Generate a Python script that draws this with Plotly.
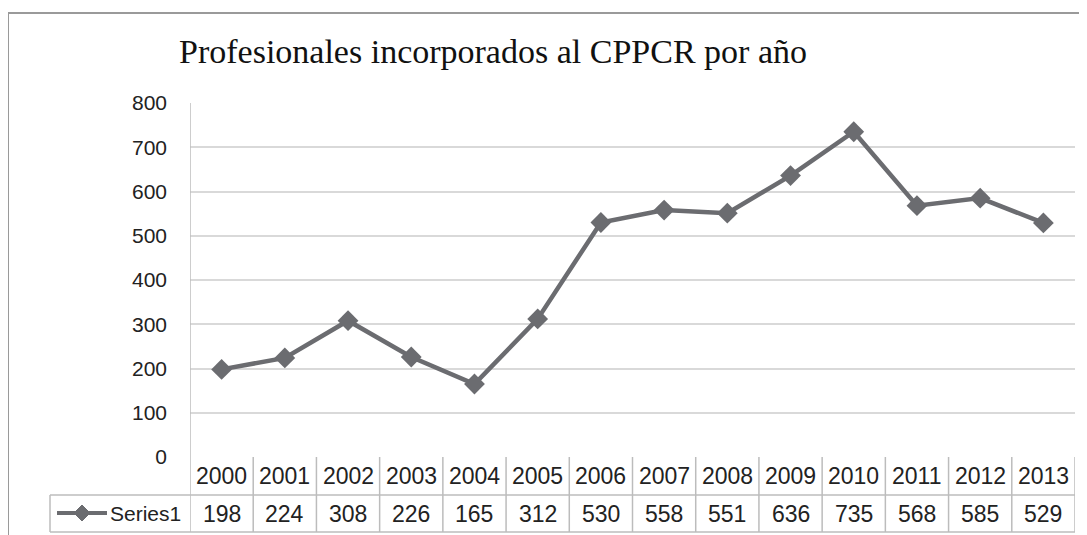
import plotly.graph_objects as go

years = ["2000", "2001", "2002", "2003", "2004", "2005", "2006",
         "2007", "2008", "2009", "2010", "2011", "2012", "2013"]
values = [198, 224, 308, 226, 165, 312, 530, 558, 551, 636, 735, 568, 585, 529]
series_name = "Series1"
title_text = "Profesionales incorporados al CPPCR por año"
y_ticks = [0, 100, 200, 300, 400, 500, 600, 700, 800]

OFF = 8  # page body margin
W, H = 1087 - OFF, 535 - OFF
# plot area in window pixel coordinates
PX0, PX1, PY0, PY1 = 190, 1075, 103, 457
L, R, T, B = PX0 - OFF, W - (PX1 - OFF), PY0 - OFF, H - (PY1 - OFF)
PW, PH = PX1 - PX0, PY1 - PY0

def px_x(px):
    return (px - PX0) / PW

def px_y(py):
    return (PY1 - py) / PH

line_col = "#6b6c70"
grid_col = "#d9d9d9"
border_col = "#bcbcbc"
txt_col = "#222222"

idx = list(range(len(years)))

fig = go.Figure()
fig.add_trace(go.Scatter(
    x=idx, y=values, mode="lines+markers",
    line=dict(color=line_col, width=4.5),
    marker=dict(symbol="diamond", size=16, color=line_col),
    name=series_name, showlegend=False, hoverinfo="skip",
))

shapes = []
row1_top = px_y(457)
row1_bot = px_y(495)
row2_bot = px_y(532)

for i in range(len(years) + 1):
    xv = i - 0.5
    y1 = row1_top if i > 0 else 1.0
    shapes.append(dict(type="line", xref="x", yref="paper", x0=xv, x1=xv,
                       y0=row2_bot, y1=y1, line=dict(color=border_col, width=1.5)))
shapes.append(dict(type="line", xref="paper", yref="paper", x0=px_x(50), x1=1.0,
                   y0=row1_bot, y1=row1_bot, line=dict(color=border_col, width=1.5)))
shapes.append(dict(type="line", xref="paper", yref="paper", x0=px_x(50), x1=1.0,
                   y0=row2_bot, y1=row2_bot, line=dict(color=border_col, width=1.5)))
shapes.append(dict(type="line", xref="paper", yref="paper", x0=px_x(50), x1=px_x(50),
                   y0=row2_bot, y1=row1_bot, line=dict(color=border_col, width=1.5)))
key_y = px_y(513)
shapes.append(dict(type="line", xref="paper", yref="paper", x0=px_x(57), x1=px_x(107),
                   y0=key_y, y1=key_y, line=dict(color=line_col, width=4)))
shapes.append(dict(type="path", xref="paper", yref="paper",
                   path="M {a},{b} L {c},{d} L {a},{e} L {f},{d} Z".format(
                       a=px_x(82), b=px_y(505), c=px_x(90), d=px_y(513),
                       e=px_y(521), f=px_x(74)),
                   fillcolor=line_col, line=dict(color=line_col, width=1)))
shapes.append(dict(type="line", xref="paper", yref="paper", x0=px_x(8), x1=px_x(1100),
                   y0=px_y(13), y1=px_y(13), line=dict(color="#9a9a9a", width=2)))
shapes.append(dict(type="line", xref="paper", yref="paper", x0=px_x(8), x1=px_x(8),
                   y0=px_y(13), y1=px_y(560), line=dict(color="#9a9a9a", width=2)))

annotations = []
tfont = dict(family="Liberation Sans", size=23, color=txt_col)
for i, (yr, v) in enumerate(zip(years, values)):
    annotations.append(dict(x=i, y=(row1_top + row1_bot) / 2, xref="x", yref="paper",
                            text=yr, showarrow=False, xanchor="center", yanchor="middle",
                            font=tfont))
    annotations.append(dict(x=i, y=(row1_bot + row2_bot) / 2, xref="x", yref="paper",
                            text=str(v), showarrow=False, xanchor="center", yanchor="middle",
                            font=tfont))
annotations.append(dict(x=px_x(145), y=key_y, xref="paper", yref="paper",
                        text=series_name, showarrow=False, xanchor="center", yanchor="middle",
                        font=dict(family="Liberation Sans", size=21, color=txt_col)))
annotations.append(dict(x=px_x(493), y=px_y(52), xref="paper", yref="paper",
                        text=title_text, showarrow=False, xanchor="center", yanchor="middle",
                        font=dict(family="Liberation Serif", size=34, color="#111111")))

fig.update_layout(
    width=W, height=H,
    margin=dict(l=L, r=R, t=T, b=B, pad=0),
    paper_bgcolor="white", plot_bgcolor="white",
    shapes=shapes, annotations=annotations,
    xaxis=dict(range=[-0.5, len(years) - 0.5], showgrid=False, zeroline=False,
               showticklabels=False, showline=False, fixedrange=True),
    yaxis=dict(range=[0, 800], tickvals=y_ticks, showgrid=True, gridcolor=grid_col,
               gridwidth=2, zeroline=False, showline=False,
               ticklabelstandoff=22,
               tickfont=dict(family="Liberation Sans", size=21, color=txt_col),
               fixedrange=True),
)

fig.write_html("out.html")
